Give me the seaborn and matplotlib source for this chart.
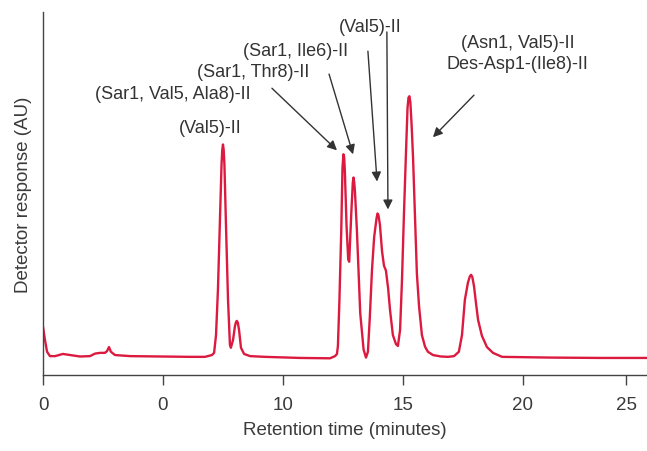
import matplotlib
matplotlib.use("Agg")
import matplotlib.pyplot as plt
import seaborn as sns
import pandas as pd

# Retention time (minutes) and detector response (AU, axis spans 0..1)
time_min = [0.00, 0.08, 0.17, 0.29, 0.50, 0.83, 1.13, 1.54, 1.96, 2.17, 2.38, 2.58, 2.67, 2.75, 2.83,
            3.00, 3.63, 4.88, 6.13, 6.75, 7.04, 7.13, 7.21, 7.29, 7.38, 7.44, 7.47, 7.50, 7.53, 7.56,
            7.63, 7.71, 7.79, 7.83, 7.92, 8.00, 8.05, 8.08, 8.12, 8.17, 8.25, 8.38, 8.63, 9.25, 10.71,
            11.96, 12.17, 12.25, 12.29, 12.35, 12.43, 12.48, 12.52, 12.55, 12.58, 12.65, 12.72, 12.76,
            12.85, 12.91, 12.94, 12.97, 13.00, 13.08, 13.22, 13.36, 13.46, 13.54, 13.62, 13.71, 13.80,
            13.90, 13.94, 13.98, 14.04, 14.13, 14.21, 14.29, 14.38, 14.46, 14.58, 14.71, 14.79, 14.88,
            14.96, 15.04, 15.13, 15.19, 15.23, 15.27, 15.31, 15.36, 15.42, 15.50, 15.58, 15.67, 15.79,
            15.92, 16.04, 16.25, 16.58, 16.88, 17.13, 17.33, 17.46, 17.58, 17.71, 17.79, 17.84, 17.89,
            17.96, 18.04, 18.13, 18.29, 18.50, 18.75, 19.13, 21.13, 23.21, 25.17]
response = [0.133, 0.097, 0.064, 0.052, 0.052, 0.058, 0.055, 0.051, 0.052, 0.059, 0.061, 0.061, 0.066,
            0.077, 0.064, 0.055, 0.052, 0.051, 0.050, 0.050, 0.055, 0.061, 0.110, 0.235, 0.442, 0.580,
            0.620, 0.635, 0.620, 0.580, 0.401, 0.207, 0.083, 0.075, 0.097, 0.135, 0.147, 0.149, 0.144,
            0.124, 0.075, 0.058, 0.052, 0.050, 0.047, 0.046, 0.052, 0.058, 0.080, 0.200, 0.400, 0.570,
            0.608, 0.600, 0.560, 0.410, 0.318, 0.312, 0.450, 0.530, 0.544, 0.530, 0.505, 0.400, 0.170,
            0.070, 0.048, 0.064, 0.160, 0.290, 0.380, 0.432, 0.445, 0.440, 0.414, 0.340, 0.301, 0.288,
            0.240, 0.180, 0.110, 0.085, 0.080, 0.124, 0.262, 0.440, 0.620, 0.735, 0.764, 0.768, 0.750,
            0.690, 0.600, 0.440, 0.280, 0.190, 0.110, 0.078, 0.064, 0.055, 0.051, 0.050, 0.052, 0.064,
            0.110, 0.207, 0.255, 0.272, 0.276, 0.270, 0.245, 0.200, 0.152, 0.108, 0.077, 0.061, 0.050,
            0.048, 0.047, 0.047]

tick_values = [0, 5, 10, 15, 20, 24.3]
tick_labels = ["0", "0", "10", "15", "20", "25"]

peak_labels = ["(Val5)-II", "(Sar1, Val5, Ala8)-II", "(Sar1, Thr8)-II", "(Sar1, Ile6)-II",
               "(Val5)-II", "(Asn1, Val5)-II\nDes-Asp1-(Ile8)-II"]

df = pd.DataFrame({"time": time_min, "response": response})

sns.set_style("white")
plt.rcParams["font.family"] = ["Liberation Sans", "DejaVu Sans"]

fig = plt.figure(figsize=(6.47, 4.52), dpi=100)
ax = fig.add_axes([43 / 647, 1 - 376 / 452, 1 - 43 / 647, (376 - 13) / 452])

sns.lineplot(data=df, x="time", y="response", ax=ax, color="#dc1a40", linewidth=1.7)

ax.set_xlim(0, 25.17)
ax.set_ylim(0, 1)
ax.set_xticks(tick_values)
ax.set_xticklabels(tick_labels, fontsize=13.5, color="#3a3a3a")
ax.set_yticks([])
ax.tick_params(axis="x", direction="out", length=7, width=1, color="#444444", pad=8, bottom=True)
for s in ["top", "right"]:
    ax.spines[s].set_visible(False)
for s in ["left", "bottom"]:
    ax.spines[s].set_color("#444444")
    ax.spines[s].set_linewidth(1.0)

ax.set_xlabel("Retention time (minutes)", fontsize=13.5, color="#3a3a3a", labelpad=6)
ax.set_ylabel("Detector response (AU)", fontsize=13.5, color="#3a3a3a", labelpad=8)

tc = "#333333"
fs = 13
arrow = dict(arrowstyle="-|>", color="#333333", lw=1.0, mutation_scale=14, shrinkA=0, shrinkB=0)

ax.text(6.96, 0.682, peak_labels[0], ha="center", va="center", fontsize=fs, color=tc)
ax.text(5.42, 0.776, peak_labels[1], ha="center", va="center", fontsize=fs, color=tc)
ax.annotate("", xy=(12.25, 0.619), xytext=(9.54, 0.790), arrowprops=arrow)
ax.text(8.75, 0.837, peak_labels[2], ha="center", va="center", fontsize=fs, color=tc)
ax.annotate("", xy=(12.92, 0.608), xytext=(11.92, 0.829), arrowprops=arrow)
ax.text(10.54, 0.895, peak_labels[3], ha="center", va="center", fontsize=fs, color=tc)
ax.annotate("", xy=(13.92, 0.533), xytext=(13.54, 0.892), arrowprops=arrow)
ax.text(13.62, 0.961, peak_labels[4], ha="center", va="center", fontsize=fs, color=tc)
ax.annotate("", xy=(14.375, 0.456), xytext=(14.33, 0.945), arrowprops=arrow)
ax.text(19.79, 0.887, peak_labels[5], ha="center", va="center", fontsize=fs, color=tc,
        linespacing=1.35)
ax.annotate("", xy=(16.25, 0.655), xytext=(17.96, 0.771), arrowprops=arrow)

fig.savefig("out.png", dpi=100)
